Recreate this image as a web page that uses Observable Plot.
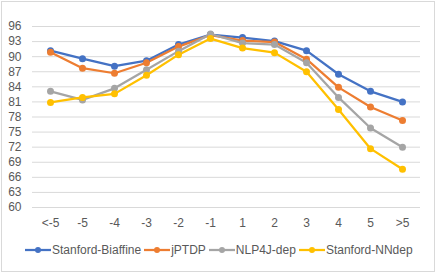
<!DOCTYPE html>
<html><head><meta charset="utf-8">
<script src="https://cdn.jsdelivr.net/npm/d3@7"></script>
<script src="https://cdn.jsdelivr.net/npm/@observablehq/plot@0.6"></script>
<style>
body{margin:0;background:#fff;font-family:"Liberation Sans",Arial,sans-serif;}
#wrap{position:relative;width:436px;height:273px;overflow:hidden;}
#frame{position:absolute;left:1px;top:1px;width:432px;height:269px;border:1px solid #d9d9d9;pointer-events:none;}
#chart{position:absolute;left:0;top:0;}
#legend{position:absolute;left:25px;top:242px;height:16px;display:flex;align-items:center;font-size:12px;color:#595959;}
.item{display:flex;align-items:center;white-space:nowrap;}
.item svg{display:block;}
</style></head>
<body><div id="wrap"><div id="chart"></div><div id="legend"></div><div id="frame"></div></div>
<script>
const categories = ["<-5","-5","-4","-3","-2","-1","1","2","3","4","5",">5"];
const seriesNames = ["Stanford-Biaffine","jPTDP","NLP4J-dep","Stanford-NNdep"];
const biaffine = [91.2,89.6,88.1,89.2,92.4,94.4,93.8,93.1,91.2,86.5,83.1,81.0];
const jptdp    = [90.9,87.7,86.7,88.8,92.0,94.3,93.2,92.9,89.5,83.9,80.0,77.3];
const nlp4j    = [83.1,81.4,83.7,87.4,91.1,94.5,92.7,92.4,88.8,81.9,75.8,72.0];
const nndep    = [80.9,81.9,82.6,86.3,90.4,93.6,91.7,90.8,87.0,79.5,71.7,67.6];
const yTicks = [60,63,66,69,72,75,78,81,84,87,90,93,96];
const colors = ["#4472C4","#ED7D31","#A5A5A5","#FFC000"];

const allSeries = [biaffine, jptdp, nlp4j, nndep];
const data = [];
allSeries.forEach((vals, si) => vals.forEach((v, i) => data.push({series: seriesNames[si], cat: categories[i], value: v})));

const plot = Plot.plot({
  width: 436, height: 233,
  marginLeft: 32, marginRight: 16, marginTop: 26, marginBottom: 26,
  style: {fontFamily: '"Liberation Sans", Arial, sans-serif', fontSize: "12px", color: "#595959", background: "transparent"},
  x: {type: "point", domain: categories, padding: 0.5, label: null},
  y: {domain: [60, 96], ticks: yTicks, label: null},
  color: {domain: seriesNames, range: colors},
  marks: [
    Plot.gridY(yTicks, {stroke: "#d9d9d9", strokeOpacity: 1, strokeWidth: 1}),
    Plot.axisY(yTicks, {tickSize: 0, tickPadding: 11, fontSize: 12, fill: "#595959", label: null}),
    Plot.axisX({tickSize: 0, tickPadding: 11, fontSize: 12, fill: "#595959", label: null}),
    Plot.line(data, {x: "cat", y: "value", z: "series", stroke: "series", strokeWidth: 2.25}),
    Plot.dot(data, {x: "cat", y: "value", fill: "series", r: 3.5})
  ]
});
document.getElementById("chart").appendChild(plot);

const legend = document.getElementById("legend");
seriesNames.forEach((name, i) => {
  const item = document.createElement("div");
  item.className = "item";
  item.innerHTML = `<svg width="26" height="12"><line x1="0" y1="6" x2="26" y2="6" stroke="${colors[i]}" stroke-width="2.25"/><circle cx="13" cy="6" r="3" fill="${colors[i]}"/></svg><span style="margin-left:1px;margin-right:3px">${name}</span>`;
  legend.appendChild(item);
});
</script></body></html>
